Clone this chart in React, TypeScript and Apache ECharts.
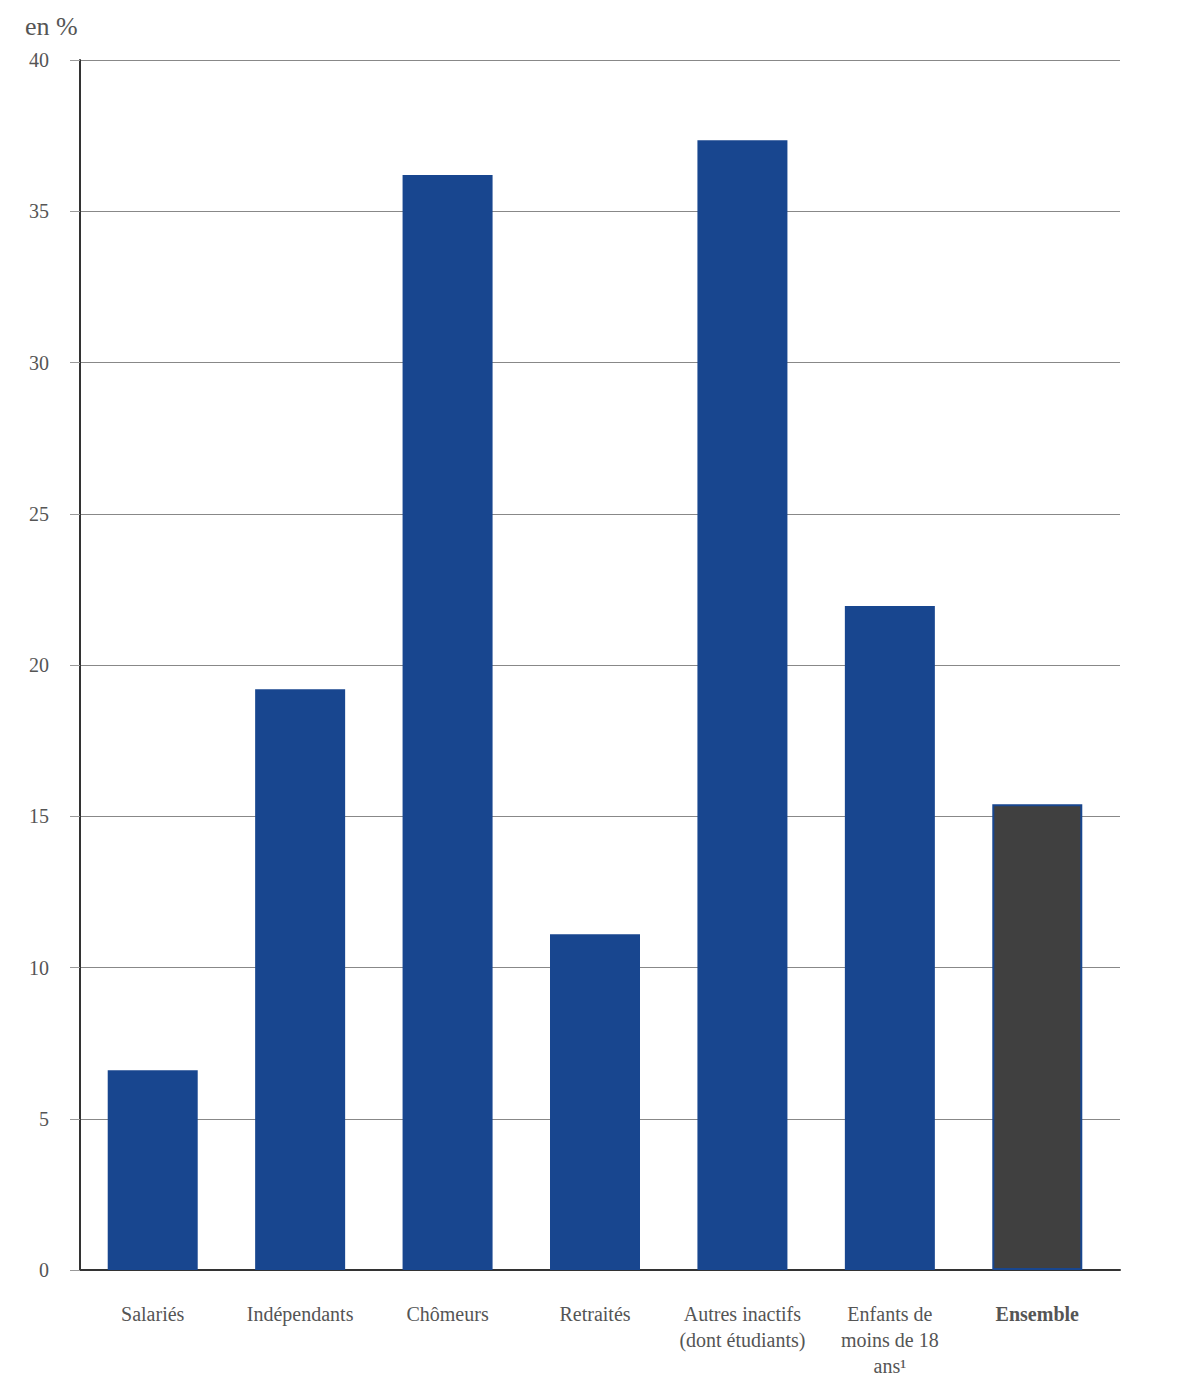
import React, { useEffect, useRef } from "react";
import * as echarts from "echarts";

const categories = [
  "Salariés",
  "Indépendants",
  "Chômeurs",
  "Retraités",
  "Autres inactifs\n(dont étudiants)",
  "Enfants de\nmoins de 18\nans¹",
  "Ensemble",
];
const values = [6.6, 19.2, 36.2, 11.1, 37.35, 21.95, 15.4];
const yTicks = { min: 0, max: 40, interval: 5 };

const BLUE = "#18468f";
const DARK = "#404040";
const FONT = "'Liberation Serif', 'Times New Roman', serif";

export default function App() {
  const ref = useRef<HTMLDivElement>(null);
  useEffect(() => {
    document.body.style.margin = "0";
    const chart = echarts.init(ref.current!, null, { renderer: "svg" });
    chart.setOption({
      animation: false,
      textStyle: { fontFamily: FONT },
      title: {
        text: "en %",
        left: 20,
        top: 8,
        textStyle: { fontFamily: FONT, fontSize: 26, fontWeight: "normal", color: "#555" },
      },
      grid: [
        { left: 80, right: 80, top: 60, bottom: 130, containLabel: false },
        { left: 79, right: 89, top: 60, bottom: 130, containLabel: false },
      ],
      xAxis: [
        {
          gridIndex: 0,
          type: "value",
          min: 0,
          max: 1,
          axisLine: { show: true, onZero: false, lineStyle: { color: "#333", width: 2 } },
          axisTick: { show: false },
          axisLabel: { show: false },
          splitLine: { show: false },
        },
        {
          gridIndex: 1,
          type: "category",
          data: categories,
          axisLine: { show: false },
          axisTick: { show: false },
          axisLabel: {
            margin: 31,
            fontFamily: FONT,
            fontSize: 20,
            lineHeight: 26,
            color: "#555",
            interval: 0,
            formatter: (v: string) => (v === "Ensemble" ? "{b|" + v + "}" : v),
            rich: {
              b: { fontFamily: FONT, fontSize: 20, fontWeight: "bold", color: "#555" },
            },
          },
        },
      ],
      yAxis: [
        {
          gridIndex: 0,
          type: "value",
          min: yTicks.min,
          max: yTicks.max,
          interval: yTicks.interval,
          axisLine: { show: true, lineStyle: { color: "#333", width: 2 } },
          axisTick: { show: true, length: 10, lineStyle: { color: "#999" } },
          axisLabel: { margin: 31, fontFamily: FONT, fontSize: 20, color: "#555" },
          splitLine: { show: true, lineStyle: { color: "#888", width: 1 } },
        },
        {
          gridIndex: 1,
          type: "value",
          min: yTicks.min,
          max: yTicks.max,
          interval: yTicks.interval,
          show: false,
        },
      ],
      series: [
        {
          type: "bar",
          xAxisIndex: 1,
          yAxisIndex: 1,
          barWidth: 90,
          data: values.map((v, i) =>
            i === values.length - 1
              ? { value: v, itemStyle: { color: DARK, borderColor: BLUE, borderWidth: 2 } }
              : { value: v, itemStyle: { color: BLUE } }
          ),
        },
      ],
    });
    return () => chart.dispose();
  }, []);
  return <div ref={ref} style={{ width: 1200, height: 1400 }} />;
}
